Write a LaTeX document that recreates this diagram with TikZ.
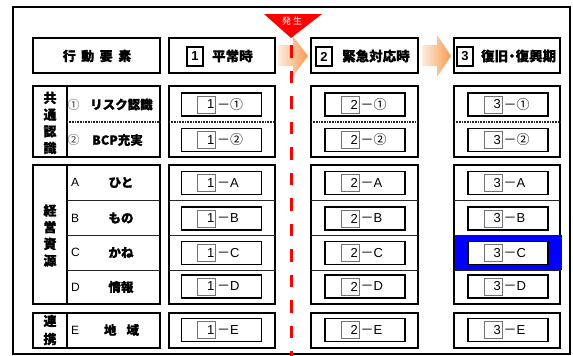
\documentclass[tikz,border=0pt]{standalone}
\usepackage{fontspec}
\setmainfont{Liberation Sans}
\newfontfamily\jp{Noto Sans CJK JP}[BoldFeatures={FakeBold=0.8}]
\usetikzlibrary{calc}
\definecolor{alarmred}{RGB}{255,0,0}
\definecolor{hlblue}{RGB}{0,0,255}
\definecolor{arrowlight}{RGB}{253,236,222}
\definecolor{arroworange}{RGB}{247,155,80}
\newcommand\cdash{{\jp －}}
\begin{document}
\begin{tikzpicture}[x=1pt,y=-1pt,
  frameline/.style={draw=black,line width=1.5pt},
  grp/.style={draw=black,line width=2pt},
  rowline/.style={draw=black!85,line width=0.8pt},
  dotline/.style={draw=black!85,line width=1.1pt,dash pattern=on 0.8pt off 0.8pt},
  hdrtxt/.style={font=\jp\bfseries\fontsize{13.5}{14}\selectfont,inner sep=0pt,anchor=west},
  hnum/.style={draw=black,line width=1.2pt,minimum width=16pt,minimum height=19pt,inner sep=0pt,font=\bfseries\fontsize{13}{14}\selectfont},
  cellbox/.style={draw=black,line width=1.8pt,fill=white,minimum width=80pt,minimum height=23pt,inner sep=0pt},
  cnum/.style={draw=black!55,line width=0.8pt,fill=white,minimum width=18pt,minimum height=17pt,inner sep=0pt,text width=15.5pt,align=right,font=\fontsize{13}{14}\selectfont},
  celltxt/.style={inner sep=0pt,anchor=west,font=\fontsize{13}{14}\selectfont},
  lefttxt/.style={inner sep=0pt,font=\jp\bfseries\fontsize{12.5}{14}\selectfont},
  leftlet/.style={inner sep=0pt,anchor=west,font=\fontsize{12}{14}\selectfont},
  circ/.style={inner sep=0pt,text=black!75,font=\jp\fontsize{12}{14}\selectfont},
  vlab/.style={inner sep=0pt,align=center,font=\jp\bfseries\fontsize{13}{16.7}\selectfont},
]
\useasboundingbox (0,0) rectangle (573,356);
% outer frame
\draw[frameline] (13,7) rectangle (570,354);

% header boxes
\draw[grp] (33,38) rectangle (160,73);
\draw[grp] (169,38) rectangle (275,73);
\draw[grp] (311,38) rectangle (418,73);
\draw[grp] (454,38) rectangle (560,73);

% phase arrows
\shade[left color=arrowlight,right color=arroworange]
  (278,45) -- (293,45) -- (293,36) -- (308,56) -- (293,76) -- (293,66) -- (278,66) -- cycle;
\shade[left color=arrowlight,right color=arroworange]
  (422,45) -- (437,45) -- (437,35) -- (451,56) -- (437,77) -- (437,66) -- (422,66) -- cycle;

% group boxes
\foreach \xa/\xb in {33/160,169/275,311/418,454/560}{
  \draw[grp] (\xa,86) rectangle (\xb,157);
  \draw[grp] (\xa,165) rectangle (\xb,304);
  \draw[grp] (\xa,313) rectangle (\xb,348);
}
\draw[grp] (67,86) -- (67,157);
\draw[grp] (67,165) -- (67,304);
\draw[grp] (67,313) -- (67,348);
\draw[dotline] (67,122) -- (160,122);
\foreach \yy in {200,235,270} \draw[rowline] (67,\yy) -- (160,\yy);
\foreach \xa/\xb in {169/275,311/418,454/560}{
  \draw[dotline] (\xa,122) -- (\xb,122);
  \foreach \yy in {200,235,270} \draw[rowline] (\xa,\yy) -- (\xb,\yy);
}

% highlight
\fill[hlblue] (455,235) rectangle (562,270);

% header texts
\node[font=\jp\bfseries\fontsize{13}{14}\selectfont,inner sep=0pt] (hdr0) at (97,56)
  {行\hspace{5.5pt}動\hspace{5.5pt}要\hspace{5.5pt}素};
\node[hnum] (h1n) at (195,56.5) {1};
\node[hdrtxt] (h1t) at (212,56) {平常時};
\node[hnum] (h2n) at (324,56.5) {2};
\node[hdrtxt] (h2t) at (342,56) {緊急対応時};
\node[hnum] (h3n) at (465,56.5) {3};
\node[hdrtxt] (h3t) at (481,56) {復旧\kern-3pt・\kern-3pt復興期};

% vertical labels
\node[vlab] (v1) at (50,123) {共\\通\\認\\識};
\node[vlab] (v2) at (50,235.5) {経\\営\\資\\源};
\node[vlab,font=\jp\bfseries\fontsize{13}{18}\selectfont] (v3) at (50,330) {連\\携};

% left column items
\node[circ] (l1c) at (73.5,104.5) {①};
\node[lefttxt,anchor=west] (l1t) at (90,104.5) {リスク認識};
\node[circ] (l2c) at (73.5,140) {②};
\node[lefttxt,anchor=west] (l2t) at (92,140) {BCP充実};
\node[leftlet] (lAl) at (71,182.5) {A};
\node[lefttxt] (lAt) at (121,182.5) {ひと};
\node[leftlet] (lBl) at (71,218) {B};
\node[lefttxt] (lBt) at (121,218) {もの};
\node[leftlet] (lCl) at (71,252.5) {C};
\node[lefttxt] (lCt) at (121,252.5) {かね};
\node[leftlet] (lDl) at (71,287) {D};
\node[lefttxt] (lDt) at (121,287) {情報};
\node[leftlet] (lEl) at (71,330) {E};
\node[lefttxt] (lEt) at (121.5,330) {地\hspace{10pt}域};

% cells
\foreach \c/\cx in {1/221.5,2/365,3/508}{
  \foreach \r/\cy/\lab in {i/104.5/{\jp ①},ii/140/{\jp ②},A/183/A,B/218.5/B,C/253/C,D/286.5/D,E/330/E}{
    \node[cellbox] (c\c\r) at (\cx,\cy) {};
    \node[cnum] (c\c\r n) at ($(c\c\r.center)+(-15,0)$) {\c};
    \node[celltxt] (c\c\r t) at ($(c\c\r n.east)+(1,0)$) {\cdash\lab};
  }
}

% occurrence line and marker
\coordinate (occtop) at (291,45);
\coordinate (occbot) at (291,356);
\draw[alarmred,line width=3pt,dash pattern=on 12.5pt off 13pt] (occtop) -- (occbot);
\fill[alarmred] (264,14) -- (322,14) -- (291,38) -- cycle;
\node[inner sep=0pt,text=white,font=\jp\fontsize{9}{10}\selectfont] (occ) at (292,21.5) {発\hspace{2pt}生};
\end{tikzpicture}
\end{document}
